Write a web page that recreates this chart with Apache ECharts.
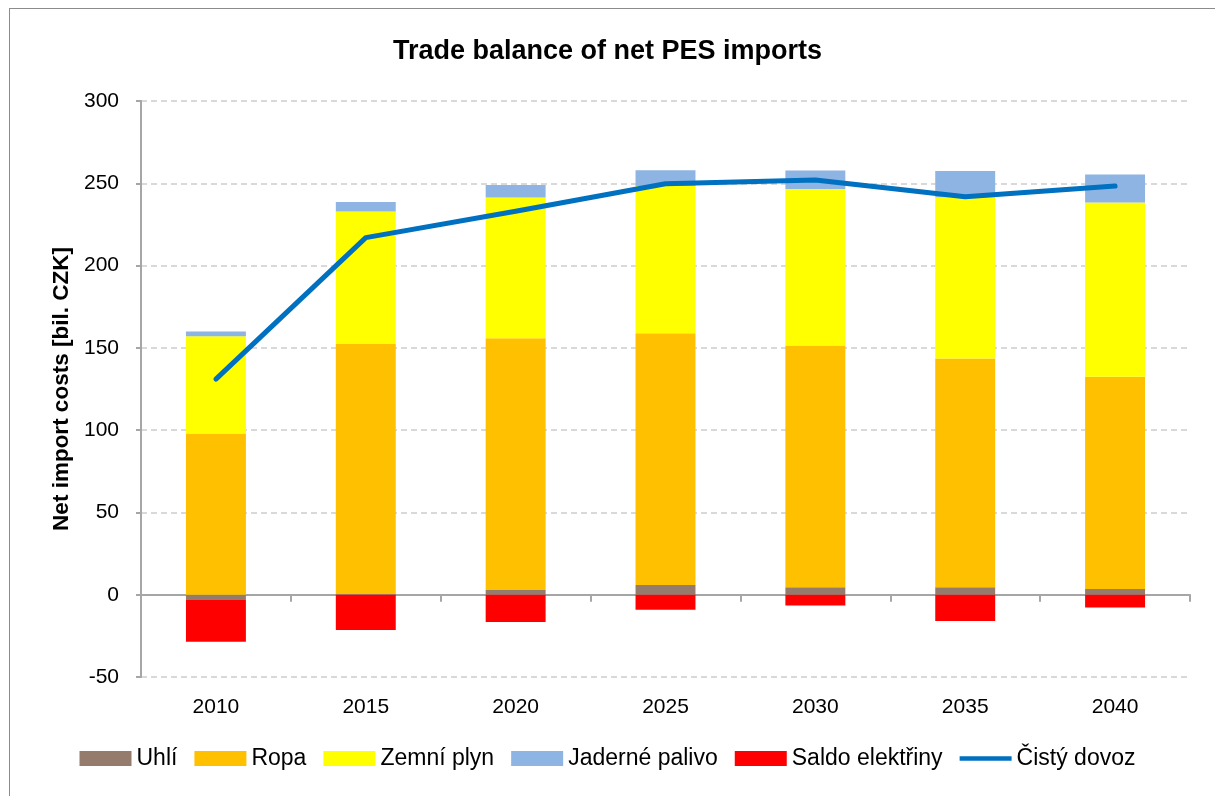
<!DOCTYPE html>
<html>
<head>
<meta charset="utf-8">
<script src="https://cdn.jsdelivr.net/npm/echarts@6/dist/echarts.min.js"></script>
<style>
  body { margin: 0; background: #fff; }
  #frame { position: absolute; left: 9px; top: 8px; width: 1220px; height: 800px; border: 1px solid #8c8c8c; box-sizing: border-box; }
  #main { position: absolute; left: 0; top: 0; width: 1215px; height: 796px; }
</style>
</head>
<body>
<div id="frame"></div>
<div id="main"></div>
<script>
// kategorie a hodnoty (mld. Kč)
var years = ['2010', '2015', '2020', '2025', '2030', '2035', '2040'];
var uhli = [-3.2, 0.4, 2.8, 5.9, 4.5, 4.5, 3.4];
var ropa = [98, 152, 153, 153, 147, 139, 129];
var zemniPlyn = [59, 80.5, 85.6, 89.5, 95, 98, 106];
var jadernePalivo = [3, 5.7, 7.5, 9.5, 11.2, 16, 17];
var saldoElektriny = [-25.4, -21.5, -16.6, -9.2, -6.5, -16, -7.7];
var cistyDovoz = [131, 217, 233, 249.7, 252, 241.8, 248.3];
var yTicks = { min: -50, max: 300, step: 50 };

var font = 'Liberation Sans';
var myChart = echarts.init(document.getElementById('main'));

function barSerie(name, data, color) {
  return {
    name: name,
    type: 'bar',
    stack: 'celkem',
    barWidth: '40%',
    data: data,
    itemStyle: { color: color },
    emphasis: { disabled: true }
  };
}

var option = {
  animation: false,
  textStyle: { fontFamily: font },
  title: {
    text: 'Trade balance of net PES imports',
    left: 'center',
    top: 33,
    textStyle: { fontFamily: font, fontSize: 27, fontWeight: 'bold', color: '#000' }
  },
  legend: {
    bottom: 21,
    left: 'center',
    itemWidth: 52,
    itemHeight: 15,
    itemGap: 17,
    textStyle: { fontFamily: font, fontSize: 23, color: '#000' },
    data: [
      { name: 'Uhlí', icon: 'rect' },
      { name: 'Ropa', icon: 'rect' },
      { name: 'Zemní plyn', icon: 'rect' },
      { name: 'Jaderné palivo', icon: 'rect' },
      { name: 'Saldo elektřiny', icon: 'rect' },
      { name: 'Čistý dovoz', icon: 'path://M0,0 L56,0 L56,5 L0,5 Z' }
    ]
  },
  grid: { left: 141, right: 25, top: 101, bottom: 119 },
  xAxis: {
    type: 'category',
    data: years,
    axisLine: { onZero: true, lineStyle: { color: '#a6a6a6', width: 2 } },
    axisTick: { show: true, length: 7, lineStyle: { color: '#a6a6a6', width: 2 } },
    axisLabel: { fontFamily: font, fontSize: 21, color: '#000', margin: 20 }
  },
  yAxis: {
    type: 'value',
    min: yTicks.min,
    max: yTicks.max,
    interval: yTicks.step,
    name: 'Net import costs [bil. CZK]',
    nameLocation: 'middle',
    nameGap: 68,
    nameTextStyle: { fontFamily: font, fontSize: 22.5, fontWeight: 'bold', color: '#000' },
    axisLine: { show: true, lineStyle: { color: '#a6a6a6', width: 2 } },
    axisTick: { show: true, length: 5, lineStyle: { color: '#a6a6a6', width: 2 } },
    axisLabel: { fontFamily: font, fontSize: 21, color: '#000', margin: 22 },
    splitLine: { lineStyle: { color: '#d9d9d9', type: [6, 4], width: 2 } }
  },
  series: [
    barSerie('Uhlí', uhli, '#947b6c'),
    barSerie('Ropa', ropa, '#ffc000'),
    barSerie('Zemní plyn', zemniPlyn, '#ffff00'),
    barSerie('Jaderné palivo', jadernePalivo, '#8eb4e3'),
    barSerie('Saldo elektřiny', saldoElektriny, '#ff0000'),
    {
      name: 'Čistý dovoz',
      type: 'line',
      data: cistyDovoz,
      symbol: 'none',
      lineStyle: { color: '#0070c0', width: 5, cap: 'round', join: 'round' },
      itemStyle: { color: '#0070c0' },
      emphasis: { disabled: true }
    }
  ]
};
myChart.setOption(option);
</script>
</body>
</html>
